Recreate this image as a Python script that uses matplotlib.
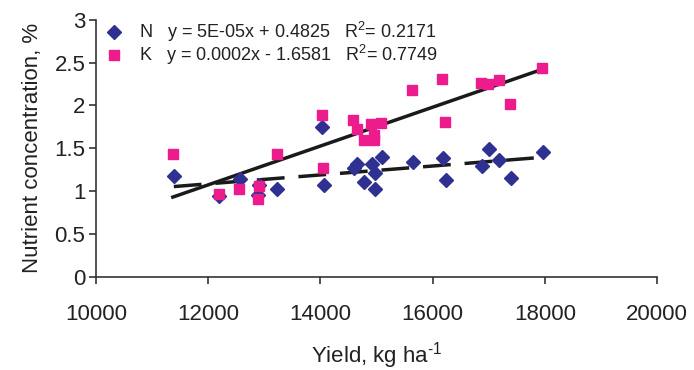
import numpy as np
import matplotlib
matplotlib.use("Agg")
import matplotlib.pyplot as plt
from matplotlib.ticker import FormatStrFormatter, MultipleLocator

plt.rcParams['font.family'] = ['Liberation Sans', 'DejaVu Sans']
plt.rcParams['mathtext.fontset'] = 'custom'
plt.rcParams['mathtext.rm'] = 'Liberation Sans'
plt.rcParams['mathtext.it'] = 'Liberation Sans:italic'

# Data
yield_n = [11390, 12193, 12567, 12906, 12888, 13226, 14029, 14064, 14652, 14599, 14777, 14920,
           14973, 14973, 15098, 15651, 16185, 16239, 17005, 16881, 17184, 17398, 17968]
conc_n = [1.18, 0.94, 1.14, 1.07, 0.96, 1.03, 1.75, 1.07, 1.32, 1.27, 1.11, 1.32,
          1.21, 1.03, 1.40, 1.34, 1.39, 1.13, 1.49, 1.29, 1.36, 1.15, 1.46]
yield_k = [11373, 12193, 12549, 12906, 12888, 13226, 14029, 14046, 14581, 14652, 14777, 14902,
           14955, 14955, 15080, 15633, 16168, 16221, 16863, 16988, 17184, 17380, 17950]
conc_k = [1.43, 0.97, 1.03, 1.06, 0.91, 1.43, 1.89, 1.27, 1.83, 1.72, 1.60, 1.78,
          1.65, 1.60, 1.79, 2.18, 2.31, 1.81, 2.26, 2.25, 2.30, 2.02, 2.44]

label_n = "N   y = 5E-05x + 0.4825   R$^2$= 0.2171"
label_k = "K   y = 0.0002x - 1.6581   R$^2$= 0.7749"

fig = plt.figure(figsize=(6.94, 3.70), dpi=100)
ax = fig.add_axes([0.138, 0.251, 0.809, 0.696])

blue = '#2E3192'
pink = '#EC1C8C'

# trend lines
for xs, ys, ls in [(yield_n, conc_n, (0, (8, 4))), (yield_k, conc_k, '-')]:
    xs = np.array(xs); ys = np.array(ys)
    m, b = np.polyfit(xs, ys, 1)
    xx = np.array([xs.min(), xs.max()])
    ax.plot(xx, m * xx + b, color='#1a1a1a', lw=2.5, ls=ls, zorder=3)

ax.plot(yield_n, conc_n, ls='none', marker='D', ms=6.7, color=blue, mec=blue, label=label_n, zorder=4)
ax.plot(yield_k, conc_k, ls='none', marker='s', ms=6.5, color=pink, mec=pink, label=label_k, zorder=4)

ax.set_xlim(10000, 20000)
ax.set_ylim(0, 3)
ax.xaxis.set_major_locator(MultipleLocator(2000))
ax.yaxis.set_major_locator(MultipleLocator(0.5))
ax.yaxis.set_major_formatter(FormatStrFormatter('%g'))

for s in ['top', 'right']:
    ax.spines[s].set_visible(False)
for s in ['left', 'bottom']:
    ax.spines[s].set_color('#333333')
    ax.spines[s].set_linewidth(1.2)
ax.tick_params(direction='out', length=5, width=1.2, color='#333333', labelsize=16,
               labelcolor='#222222')
ax.tick_params(axis='y', pad=2.5)
ax.tick_params(axis='x', pad=14)

ax.set_xlabel('Yield, kg ha$^{\\text{-1}}$', fontsize=16, color='#222222', labelpad=11)
ax.set_ylabel('Nutrient concentration, %', fontsize=16, color='#222222', labelpad=8)

leg = ax.legend(loc='upper left', bbox_to_anchor=(-0.006, 1.047), frameon=False, fontsize=13,
                handlelength=1.0, handletextpad=0.9, labelspacing=-0.05, borderaxespad=0.3,
                labelcolor='#222222')

fig.savefig('out.png', dpi=100)
